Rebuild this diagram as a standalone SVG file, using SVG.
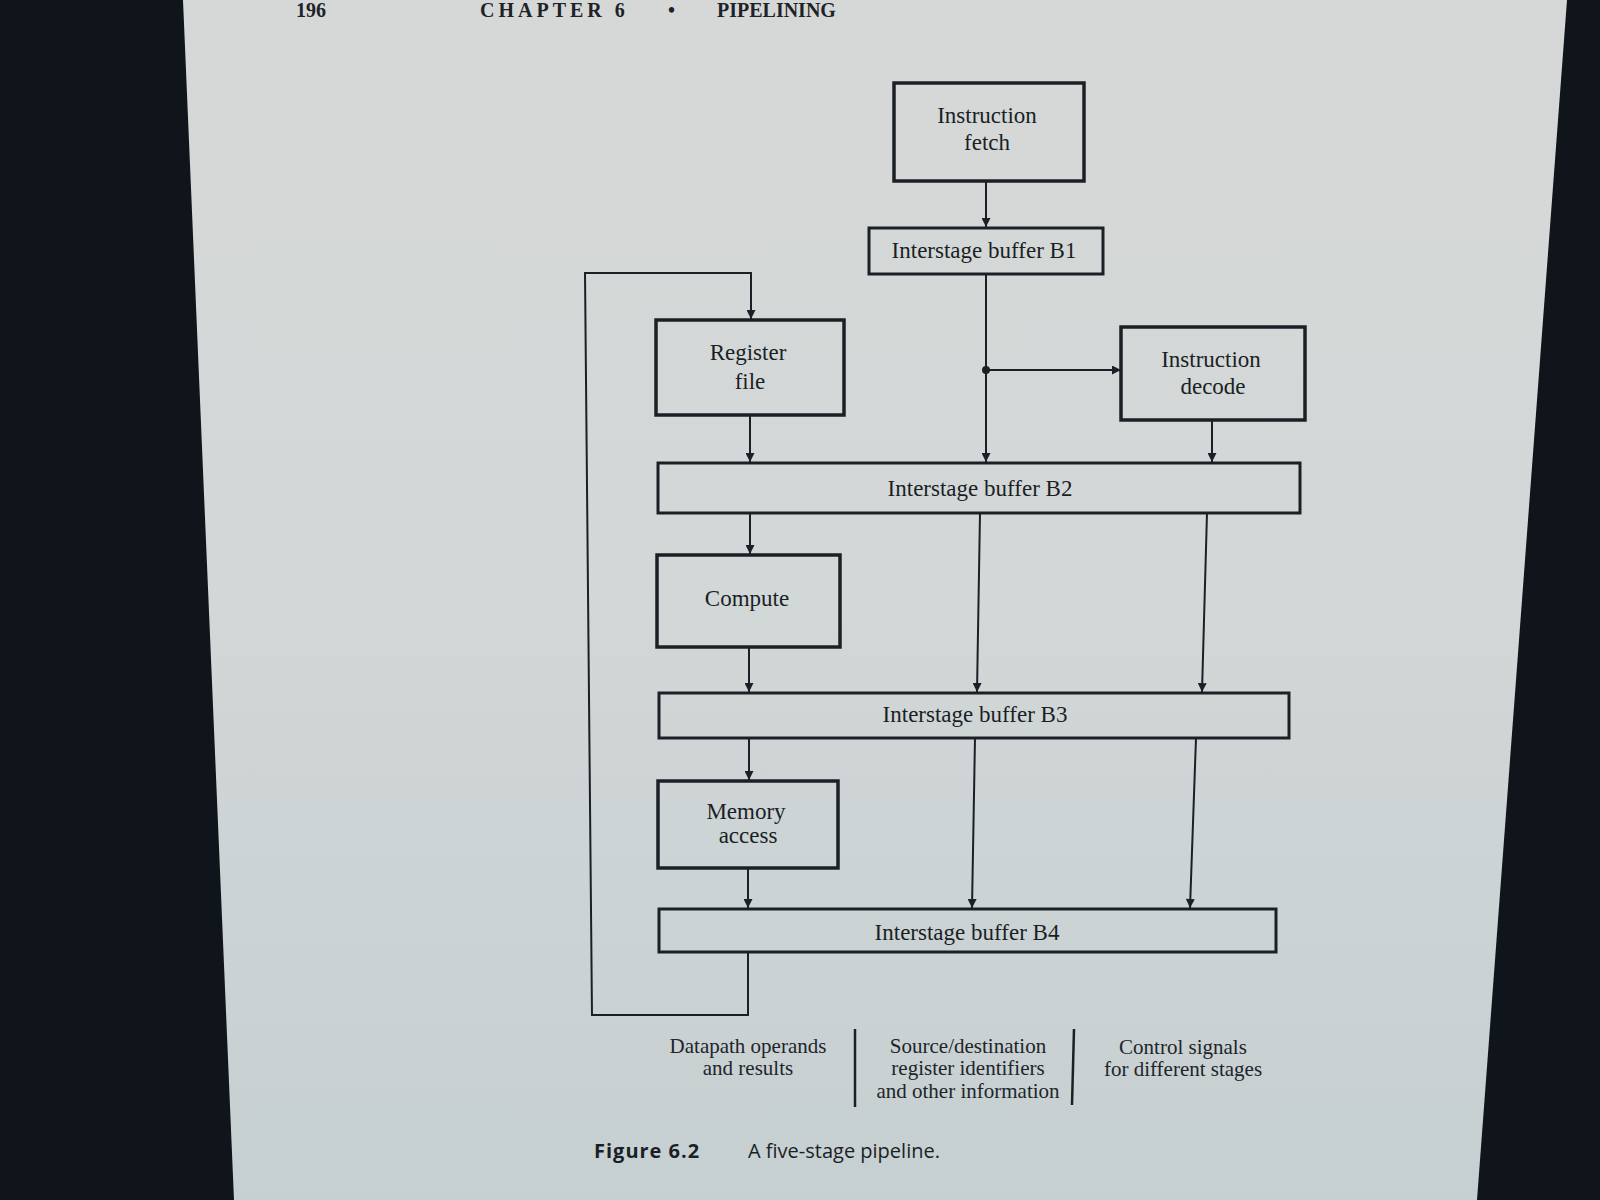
<svg xmlns="http://www.w3.org/2000/svg" width="1600" height="1200" viewBox="0 0 1600 1200">
<style>
.box{fill:none;stroke:#1b2027;stroke-width:3.5}
.buf{fill:none;stroke:#1b2027;stroke-width:3}
.ln{fill:none;stroke:#1b2027;stroke-width:2}
.t{font-family:"Liberation Serif","DejaVu Serif",serif;font-size:23px;fill:#1a1f25;text-anchor:middle}
.lg{font-family:"Liberation Serif","DejaVu Serif",serif;font-size:21px;fill:#20252b;text-anchor:middle}
.cap{font-family:"Open Sans","Liberation Sans",sans-serif;font-size:20px;fill:#1a1f25}
.hd{font-family:"Liberation Serif","DejaVu Serif",serif;font-size:20px;font-weight:bold;fill:#1e2329}
</style>
<defs>
<linearGradient id="pg" x1="0" y1="0" x2="0" y2="1">
<stop offset="0" stop-color="#d6d8d7"/>
<stop offset="0.5" stop-color="#d2d7d7"/>
<stop offset="1" stop-color="#c6cfd1"/>
</linearGradient>
<marker id="ah" viewBox="0 0 10 10" refX="10" refY="5" markerWidth="12" markerHeight="9" orient="auto" markerUnits="userSpaceOnUse">
<path d="M0,0 L10,5 L0,10 z" fill="#1b2027"/>
</marker>
</defs>
<rect x="0" y="0" width="1600" height="1200" fill="#10151c"/>
<polygon points="183,0 1567,0 1477,1200 234,1200" fill="url(#pg)"/>

<g id="header">
<text class="hd" x="296" y="17">196</text>
<text class="hd" x="480" y="17" letter-spacing="4">CHAPTER 6</text>
<text class="hd" x="668" y="17">•</text>
<text class="hd" x="717" y="17" font-size="18">PIPELINING</text>
</g>

<g id="connectors">
<line class="ln" x1="986" y1="181" x2="986" y2="227" marker-end="url(#ah)"/>
<line class="ln" x1="986" y1="274" x2="986" y2="462" marker-end="url(#ah)"/>
<circle cx="986" cy="370" r="4" fill="#1b2027"/>
<line class="ln" x1="986" y1="370" x2="1121" y2="370" marker-end="url(#ah)"/>
<line class="ln" x1="1212" y1="420" x2="1212" y2="462" marker-end="url(#ah)"/>
<line class="ln" x1="750" y1="415" x2="750" y2="462" marker-end="url(#ah)"/>
<line class="ln" x1="750" y1="513" x2="750" y2="554" marker-end="url(#ah)"/>
<line class="ln" x1="980" y1="513" x2="977" y2="692" marker-end="url(#ah)"/>
<line class="ln" x1="1207" y1="513" x2="1202" y2="692" marker-end="url(#ah)"/>
<line class="ln" x1="749" y1="647" x2="749" y2="692" marker-end="url(#ah)"/>
<line class="ln" x1="749" y1="738" x2="749" y2="780" marker-end="url(#ah)"/>
<line class="ln" x1="975" y1="738" x2="972" y2="908" marker-end="url(#ah)"/>
<line class="ln" x1="1196" y1="738" x2="1190" y2="908" marker-end="url(#ah)"/>
<line class="ln" x1="748" y1="868" x2="748" y2="908" marker-end="url(#ah)"/>
<polyline class="ln" points="748,952 748,1015 592,1015 585,273 751,273 751,319" marker-end="url(#ah)"/>
</g>

<g id="fetch">
<rect class="box" x="894" y="83" width="190" height="98"/>
<text class="t" x="987" y="123">Instruction</text>
<text class="t" x="987" y="150">fetch</text>
</g>
<g id="b1">
<rect class="buf" x="869" y="228" width="234" height="46"/>
<text class="t" x="984" y="258">Interstage buffer B1</text>
</g>
<g id="regfile">
<rect class="box" x="656" y="320" width="188" height="95"/>
<text class="t" x="748" y="360">Register</text>
<text class="t" x="750" y="389">file</text>
</g>
<g id="decode">
<rect class="box" x="1121" y="327" width="184" height="93"/>
<text class="t" x="1211" y="367">Instruction</text>
<text class="t" x="1213" y="394">decode</text>
</g>
<g id="b2">
<rect class="buf" x="658" y="463" width="642" height="50"/>
<text class="t" x="980" y="496">Interstage buffer B2</text>
</g>
<g id="compute">
<rect class="box" x="657" y="555" width="183" height="92"/>
<text class="t" x="747" y="606">Compute</text>
</g>
<g id="b3">
<rect class="buf" x="659" y="693" width="630" height="45"/>
<text class="t" x="975" y="722">Interstage buffer B3</text>
</g>
<g id="memory">
<rect class="box" x="658" y="781" width="180" height="87"/>
<text class="t" x="746" y="819">Memory</text>
<text class="t" x="748" y="843">access</text>
</g>
<g id="b4">
<rect class="buf" x="659" y="909" width="617" height="43"/>
<text class="t" x="967" y="940">Interstage buffer B4</text>
</g>

<g id="legend">
<text class="lg" x="748" y="1053">Datapath operands</text>
<text class="lg" x="748" y="1075">and results</text>
<line class="ln" x1="855" y1="1029" x2="855" y2="1107" style="stroke-width:2.5"/>
<text class="lg" x="968" y="1053">Source/destination</text>
<text class="lg" x="968" y="1075">register identifiers</text>
<text class="lg" x="968" y="1098">and other information</text>
<line class="ln" x1="1074" y1="1029" x2="1072" y2="1105" style="stroke-width:2.5"/>
<text class="lg" x="1183" y="1054">Control signals</text>
<text class="lg" x="1183" y="1076">for different stages</text>
</g>

<g id="caption">
<text class="cap" x="594" y="1158" font-weight="bold" font-size="21" letter-spacing="1">Figure 6.2</text>
<text class="cap" x="748" y="1158" font-size="19">A five-stage pipeline.</text>
</g>
</svg>
